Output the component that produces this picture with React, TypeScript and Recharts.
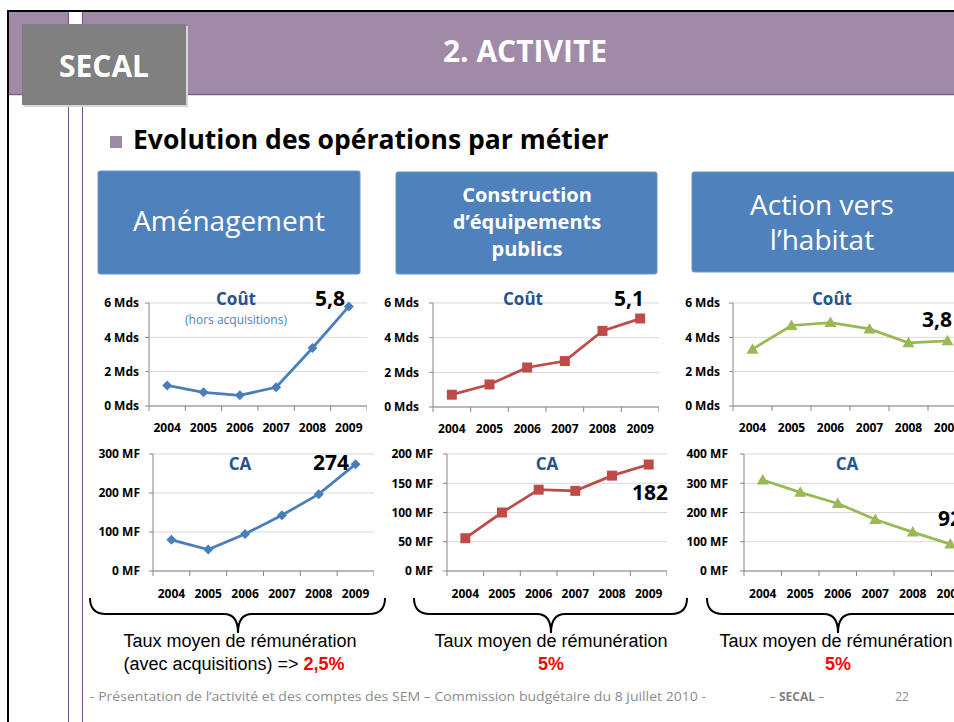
import { LineChart, Line, XAxis, YAxis, CartesianGrid } from 'recharts';

const years = ['2004', '2005', '2006', '2007', '2008', '2009'];

// Coût (Mds)
const coutAmenagement = [1.2, 0.8, 0.62, 1.09, 3.38, 5.8];
const coutConstruction = [0.71, 1.3, 2.28, 2.65, 4.39, 5.1];
const coutHabitat = [3.31, 4.69, 4.86, 4.49, 3.68, 3.8];

// CA (MF)
const caAmenagement = [80, 55, 95, 143, 197, 274];
const caConstruction = [56, 100, 139, 137, 163, 182];
const caHabitat = [311, 269, 231, 176, 133, 92];

const coutTicks = [0, 2, 4, 6];
const caTicksAmenagement = [0, 100, 200, 300];
const caTicksConstruction = [0, 50, 100, 150, 200];
const caTicksHabitat = [0, 100, 200, 300, 400];

const BLUE = '#4A7EBB';
const RED = '#BE4B48';
const GREEN = '#98B954';
const TITLE = '#25538F';
const AXIS = '#868686';
const FONT = '"Open Sans", sans-serif';

type Marker = 'diamond' | 'square' | 'triangle';

function markerPath(kind: Marker, cx: number, cy: number) {
  if (kind === 'diamond') {
    const r = 5;
    return `M${cx},${cy - r}L${cx + r},${cy}L${cx},${cy + r}L${cx - r},${cy}Z`;
  }
  if (kind === 'square') {
    const r = 5;
    return `M${cx - r},${cy - r}h${2 * r}v${2 * r}h${-2 * r}Z`;
  }
  return `M${cx},${cy - 6}L${cx + 6},${cy + 4.5}L${cx - 6},${cy + 4.5}Z`;
}

interface PanelProps {
  left: number;
  top: number;
  width: number;
  height: number;
  yWidth: number;
  gap: number;
  labelOffset: number;
  values: number[];
  ticks: number[];
  unit: string;
  color: string;
  marker: Marker;
}

function Panel({ left, top, width, height, yWidth, gap, labelOffset, values, ticks, unit, color, marker }: PanelProps) {
  const data = years.map((year, i) => ({ year, value: values[i] }));
  const band = (width - yWidth) / years.length;

  const renderTick = (props: any) => {
    const { x, y, payload, index } = props;
    return (
      <g key={`tick-${index}`}>
        <line x1={x - band / 2} y1={y} x2={x - band / 2} y2={y + 5} stroke={AXIS} />
        {index === years.length - 1 && (
          <line x1={x + band / 2} y1={y} x2={x + band / 2} y2={y + 5} stroke={AXIS} />
        )}
        <text x={x} y={y + labelOffset} textAnchor="middle" fontSize={12} fontWeight={700} fontFamily={FONT} fill="#000">
          {payload.value}
        </text>
      </g>
    );
  };

  return (
    <div style={{ position: 'absolute', left, top }}>
      <LineChart width={width} height={height} data={data} margin={{ top: 10, right: 0, bottom: 0, left: 0 }}>
        <CartesianGrid vertical={false} stroke="#D9D9D9" />
        <XAxis
          dataKey="year"
          interval={0}
          height={30}
          padding={{ left: band / 2, right: band / 2 }}
          tickLine={false}
          tickSize={0}
          tickMargin={0}
          axisLine={{ stroke: AXIS }}
          tick={renderTick}
        />
        <YAxis
          width={yWidth}
          domain={[ticks[0], ticks[ticks.length - 1]]}
          ticks={ticks}
          interval={0}
          tickSize={4}
          tickMargin={gap - 4}
          tickLine={{ stroke: AXIS }}
          axisLine={{ stroke: AXIS }}
          tick={{ fill: '#000', fontSize: 12, fontWeight: 700, fontFamily: FONT }}
          tickFormatter={(v) => `${v} ${unit}`}
        />
        <Line
          type="linear"
          dataKey="value"
          stroke={color}
          strokeWidth={2.75}
          dot={(p: any) => <path key={`dot-${p.index}`} d={markerPath(marker, p.cx, p.cy)} fill={color} />}
          activeDot={false}
          isAnimationActive={false}
        />
      </LineChart>
    </div>
  );
}

const fmt = (v: number) => String(v).replace('.', ',');
const last = (arr: number[]) => arr[arr.length - 1];

function Brace({ x0, x1, mid }: { x0: number; x1: number; mid: number }) {
  const top = 598;
  const bar = 614;
  const tip = 633;
  const d = `M${x0},${top} Q${x0},${bar} ${x0 + 16},${bar} L${mid - 14},${bar} Q${mid},${bar} ${mid},${tip} Q${mid},${bar} ${mid + 14},${bar} L${x1 - 16},${bar} Q${x1},${bar} ${x1},${top}`;
  return <path d={d} fill="none" stroke="#000" strokeWidth={2} />;
}

export default function App() {
  return (
    <div style={{ position: 'absolute', left: 0, top: 0, width: 954, height: 722, overflow: 'hidden', background: '#fff' }}>
      <svg width={954} height={722} style={{ position: 'absolute', left: 0, top: 0 }}>
        {/* header band */}
        <rect x={9} y={12} width={945} height={83} fill="#A08AA8" />
        <line x1={9} y1={94.5} x2={954} y2={94.5} stroke="#7A6390" strokeWidth={1.5} />
        <rect x={69} y={12} width={13} height={14} fill="#fff" />
        <line x1={68.5} y1={12} x2={68.5} y2={722} stroke="#6B5488" />
        <line x1={82.5} y1={12} x2={82.5} y2={722} stroke="#6B5488" />
        <rect x={7} y={10} width={947} height={2} fill="#000" />
        <rect x={7} y={10} width={2} height={712} fill="#000" />
        <rect x={24} y={26} width={164} height={81} fill="#D6D6D6" />
        <rect x={22} y={24} width={164} height={81} fill="#808080" />
        <text x={104} y={77} textAnchor="middle" fontSize={30} fontWeight={700} fontFamily={FONT} fill="#fff">
          SECAL
        </text>
        <text x={525} y={62} textAnchor="middle" fontSize={30} fontWeight={700} fontFamily={FONT} fill="#fff">
          2. ACTIVITE
        </text>

        {/* bullet title */}
        <rect x={110} y={136} width={12} height={12} fill="#9B8BA6" />
        <text x={133} y={149} fontSize={26.5} fontWeight={700} fontFamily={FONT} fill="#000">
          Evolution des opérations par métier
        </text>

        {/* category boxes */}
        <rect x={98} y={171} width={262} height={103} rx={2} fill="#4F81BD" stroke="#6B95C8" />
        <text x={229} y={231} textAnchor="middle" fontSize={28} fontFamily={FONT} fill="#fff">
          Aménagement
        </text>
        <rect x={396} y={172} width={261} height={102} rx={2} fill="#4F81BD" stroke="#6B95C8" />
        <text textAnchor="middle" fontSize={20} fontWeight={700} fontFamily={FONT} fill="#fff">
          <tspan x={527} y={202}>Construction</tspan>
          <tspan x={527} y={229}>d’équipements</tspan>
          <tspan x={527} y={256}>publics</tspan>
        </text>
        <rect x={692} y={172} width={270} height={100} rx={2} fill="#4F81BD" stroke="#6B95C8" />
        <text textAnchor="middle" fontSize={28} fontFamily={FONT} fill="#fff">
          <tspan x={822} y={215}>Action vers</tspan>
          <tspan x={822} y={250}>l’habitat</tspan>
        </text>

        {/* braces */}
        <Brace x0={90} x1={385} mid={238} />
        <Brace x0={414} x1={687} mid={551} />
        <Brace x0={707} x1={970} mid={838} />

        <g fontFamily='"Liberation Sans", Arial, sans-serif' fontSize={18} fill="#000">
          <text x={240} y={647} textAnchor="middle">Taux moyen de rémunération</text>
          <text x={234} y={670} textAnchor="middle">
            (avec acquisitions) =&gt; <tspan fill="#FF0000" fontWeight={700}>2,5%</tspan>
          </text>
          <text x={551} y={647} textAnchor="middle">Taux moyen de rémunération</text>
          <text x={551} y={670} textAnchor="middle" fill="#FF0000" fontWeight={700}>5%</text>
          <text x={836} y={647} textAnchor="middle">Taux moyen de rémunération</text>
          <text x={838} y={670} textAnchor="middle" fill="#FF0000" fontWeight={700}>5%</text>
        </g>

        {/* footer */}
        <g fontFamily={FONT} fontSize={12} fill="#8C8C8C">
          <text x={90} y={701} textLength={616} lengthAdjust="spacingAndGlyphs">
            - Présentation de l’activité et des comptes des SEM – Commission budgétaire du 8 juillet 2010 -
          </text>
          <text x={797} y={701} textAnchor="middle">
            – <tspan fontWeight={700} fill="#7F7F7F">SECAL</tspan> –
          </text>
          <text x={902} y={701} textAnchor="middle">22</text>
        </g>
      </svg>

      <Panel left={90} top={293} width={277} height={143} yWidth={59} gap={10} labelOffset={26}
        values={coutAmenagement} ticks={coutTicks} unit="Mds" color={BLUE} marker="diamond" />
      <Panel left={380} top={293} width={279} height={144} yWidth={53} gap={14} labelOffset={26}
        values={coutConstruction} ticks={coutTicks} unit="Mds" color={RED} marker="square" />
      <Panel left={675} top={293} width={292} height={143} yWidth={58} gap={13} labelOffset={26}
        values={coutHabitat} ticks={coutTicks} unit="Mds" color={GREEN} marker="triangle" />
      <Panel left={90} top={444} width={284} height={157} yWidth={63} gap={13} labelOffset={27}
        values={caAmenagement} ticks={caTicksAmenagement} unit="MF" color={BLUE} marker="diamond" />
      <Panel left={380} top={444} width={287} height={157} yWidth={67} gap={14} labelOffset={27}
        values={caConstruction} ticks={caTicksConstruction} unit="MF" color={RED} marker="square" />
      <Panel left={680} top={444} width={289} height={157} yWidth={64} gap={16} labelOffset={27}
        values={caHabitat} ticks={caTicksHabitat} unit="MF" color={GREEN} marker="triangle" />

      {/* chart annotations */}
      <svg width={954} height={722} style={{ position: 'absolute', left: 0, top: 0, pointerEvents: 'none' }}>
        <g fontFamily={FONT} fontWeight={700} fontSize={17} fill={TITLE} textAnchor="middle">
          <text x={236} y={305}>Coût</text>
          <text x={523} y={305}>Coût</text>
          <text x={832} y={305}>Coût</text>
          <text x={240} y={470}>CA</text>
          <text x={547} y={470}>CA</text>
          <text x={847} y={470}>CA</text>
        </g>
        <text x={236} y={324} textAnchor="middle" fontFamily={FONT} fontSize={12} fill="#4F81BD">
          (hors acquisitions)
        </text>
        <g fontFamily={FONT} fontWeight={700} fontSize={21} fill="#000">
          <text x={330} y={306} textAnchor="middle">{fmt(last(coutAmenagement))}</text>
          <text x={629} y={306} textAnchor="middle">{fmt(last(coutConstruction))}</text>
          <text x={922} y={327}>{fmt(last(coutHabitat))}</text>
          <text x={331} y={470} textAnchor="middle">{fmt(last(caAmenagement))}</text>
          <text x={650} y={500} textAnchor="middle">{fmt(last(caConstruction))}</text>
          <text x={938} y={526}>{fmt(last(caHabitat))}</text>
        </g>
      </svg>
    </div>
  );
}
